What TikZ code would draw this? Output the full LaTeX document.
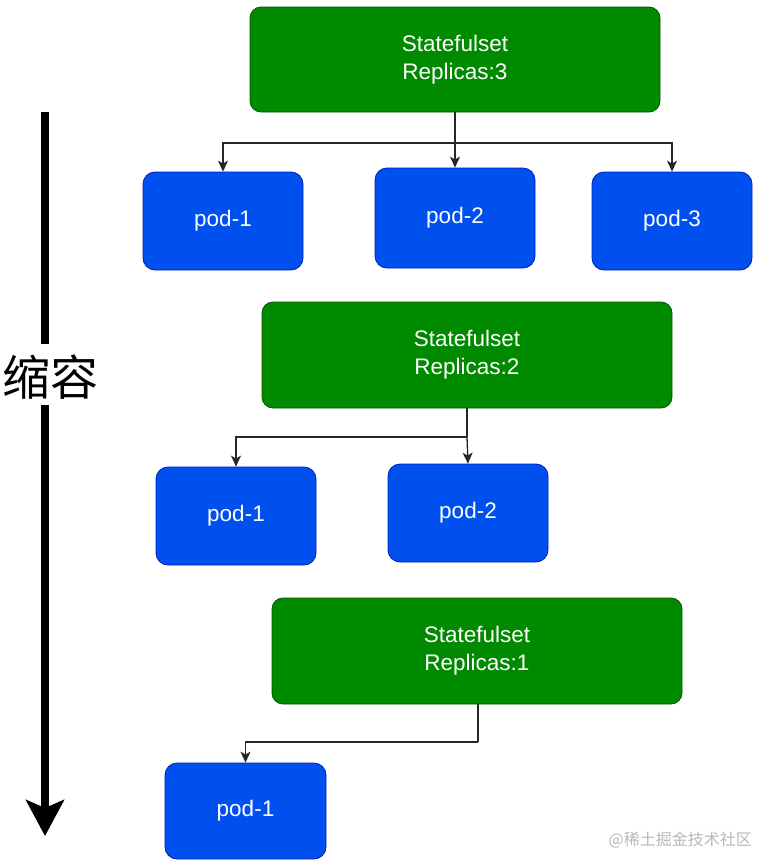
\documentclass[tikz,border=0pt]{standalone}
\usepackage{fontspec}
\setmainfont{Liberation Sans}
\newfontfamily\cjk{Noto Sans CJK SC}
\usetikzlibrary{arrows.meta}
\definecolor{gfill}{HTML}{008A00}
\definecolor{gline}{HTML}{005700}
\definecolor{bfill}{HTML}{0050EF}
\definecolor{bline}{HTML}{001DBC}
\tikzset{
  sset/.style={draw=gline, fill=gfill, line width=0.8pt, rounded corners=11pt,
    minimum width=410pt, minimum height=105pt, text=white, align=center,
    font=\fontsize{22.5}{28}\selectfont, inner sep=0pt},
  podbox/.style={draw=bline, fill=bfill, line width=0.8pt, rounded corners=12pt,
    minimum width=160pt, minimum height=98pt, text=white,
    font=\fontsize{22.5}{28}\selectfont, inner sep=0pt},
  conn/.style={draw=black!85, line width=1.3pt},
  arr/.style={conn, -{Stealth[length=11pt,width=10pt,inset=3pt]}},
}
\begin{document}
\begin{tikzpicture}[x=1pt,y=-1pt]
\useasboundingbox[fill=white] (0,0) rectangle (756,860);

% big arrow with label
\node[font=\cjk\fontsize{48}{50}\selectfont, inner sep=0pt] (lbl) at (50,377) {缩容};
\coordinate (atop) at (45,112);
\coordinate (abot) at (45,836);
\draw[line width=8pt] (atop) -- (45,344);
\draw[line width=8pt, -{Stealth[length=36pt,width=38pt,inset=8pt]}] (45,405) -- (abot);

% stage 1
\node[sset] (g1) at (455,59.5) {Statefulset\\Replicas:3};
\node[podbox] (p11) at (223,221) {pod-1};
\node[podbox, minimum height=100pt] (p12) at (455,218) {pod-2};
\node[podbox] (p13) at (672,221) {pod-3};
\coordinate (j1) at (455,143);
\draw[conn] (g1.south) -- (j1);
\draw[arr] (j1) -| (p11.north);
\draw[arr] (j1) -- (p12.north);
\draw[arr] (j1) -| (p13.north);

% stage 2
\node[sset, minimum height=106pt] (g2) at (467,355) {Statefulset\\Replicas:2};
\node[podbox] (p21) at (236,516) {pod-1};
\node[podbox] (p22) at (468,513) {pod-2};
\coordinate (j2) at (467,437);
\draw[conn] (g2.south) -- (j2);
\draw[arr] (j2) -| (p21.north);
\draw[arr] (j2) -- (p22.north);

% stage 3
\node[sset, minimum height=106pt] (g3) at (477,651) {Statefulset\\Replicas:1};
\node[podbox, minimum width=161pt, minimum height=96pt] (p31) at (245.5,811) {pod-1};
\coordinate (j3) at (478,742);
\draw[conn] (g3.south -| j3) -- (j3);
\draw[arr] (j3) -| (p31.north);

% watermark
\node[font=\cjk\fontsize{16}{18}\selectfont, text=black!28, anchor=east, inner sep=0pt] (wm) at (752,840) {@稀土掘金技术社区};
\end{tikzpicture}
\end{document}
